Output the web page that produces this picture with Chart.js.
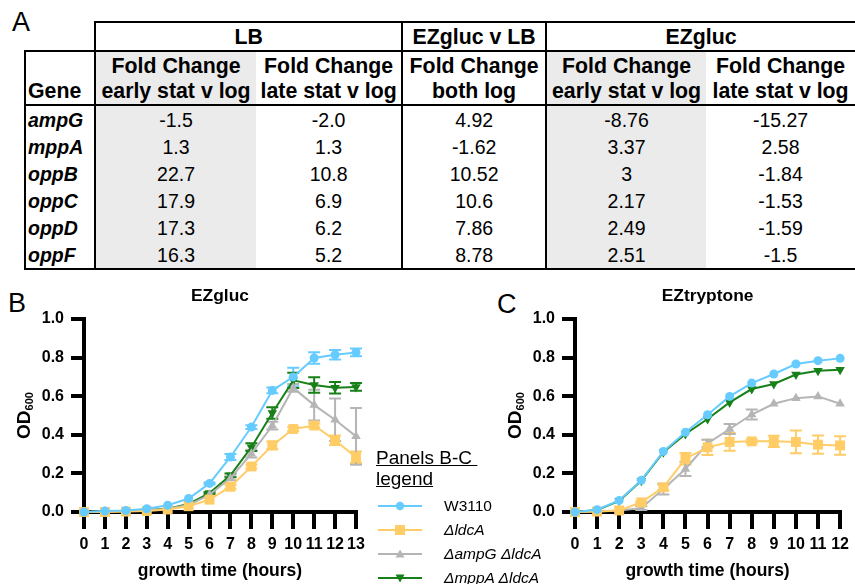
<!DOCTYPE html>
<html>
<head>
<meta charset="utf-8">
<script src="https://cdn.jsdelivr.net/npm/chart.js@4.4.0/dist/chart.umd.min.js"></script>
<style>
  body { margin: 0; width: 855px; height: 584px; overflow: hidden; background: #fff; position: relative;
         font-family: "Liberation Sans", Arial, sans-serif; color: #000; }
  .letter { position: absolute; font-size: 27px; line-height: 27px; }
  #tbl { position: absolute; left: 24px; top: 21px; border-collapse: collapse; table-layout: fixed; }
  #tbl td { padding: 0; text-align: center; white-space: nowrap; overflow: hidden; }
  #tbl tr.h1 td { height: 27px; font-weight: bold; font-size: 21.3px; line-height: 26px; }
  #tbl tr.h2 td { height: 52px; font-weight: bold; font-size: 21.3px; line-height: 25px; vertical-align: bottom; }
  #tbl tr.d td { height: 27px; font-size: 19.5px; line-height: 26px; }
  #tbl td.gene { text-align: left; padding-left: 2px; font-weight: bold; font-style: italic; }
  #tbl td.shade { background: #ebebeb; }
  #tbl td.vl { border-left: 2.5px solid #000; }
  .bt { border-top: 2.5px solid #000; }
  .bb { border-bottom: 2.5px solid #000; }
  canvas { position: absolute; }
  #legend { position: absolute; left: 0; top: 0; }
  .lgtitle { position: absolute; left: 376px; font-size: 19px; line-height: 21px; text-decoration: underline; white-space: pre; }
  .lgrow { position: absolute; left: 377px; height: 20px; display: flex; align-items: center; font-size: 15.5px; white-space: nowrap; }
  .lgrow svg { width: 46px; height: 14px; margin-right: 21px; }
</style>
</head>
<body>
<div class="letter" style="left:12px;top:9px">A</div>
<div class="letter" style="left:8px;top:290px">B</div>
<div class="letter" style="left:497px;top:291px">C</div>

<table id="tbl">
  <colgroup>
    <col style="width:71px"><col style="width:162px"><col style="width:147px">
    <col style="width:145px"><col style="width:161px"><col style="width:150px">
  </colgroup>
  <tbody id="tblBody"></tbody>
</table>

<canvas id="chartB" width="380" height="304" style="left:0;top:280px"></canvas>
<canvas id="chartC" width="365" height="304" style="left:490px;top:280px"></canvas>

<div id="legend">
  <div class="lgtitle" style="top:447px">Panels B-C </div>
  <div class="lgtitle" style="top:468px">legend</div>
</div>

<script>
// panel A table
const genes = ["ampG", "mppA", "oppB", "oppC", "oppD", "oppF"];
const lbEarly = ["-1.5", "1.3", "22.7", "17.9", "17.3", "16.3"];
const lbLate = ["-2.0", "1.3", "10.8", "6.9", "6.2", "5.2"];
const ezVsLb = ["4.92", "-1.62", "10.52", "10.6", "7.86", "8.78"];
const ezEarly = ["-8.76", "3.37", "3", "2.17", "2.49", "2.51"];
const ezLate = ["-15.27", "2.58", "-1.84", "-1.53", "-1.59", "-1.5"];

// panels B and C
const hoursB = [0, 1, 2, 3, 4, 5, 6, 7, 8, 9, 10, 11, 12, 13];
const hoursC = [0, 1, 2, 3, 4, 5, 6, 7, 8, 9, 10, 11, 12];
const strains = ["W3110", "ΔldcA", "ΔampG ΔldcA", "ΔmppA ΔldcA"];
const colors = ["#66ccff", "#ffcc66", "#b5b5b5", "#188018"];

const w3110B = [0, 0.005, 0.008, 0.017, 0.035, 0.07, 0.148, 0.285, 0.44, 0.63, 0.70, 0.798, 0.815, 0.827];
const ldcAB = [0, 0, 0.002, 0.005, 0.013, 0.03, 0.064, 0.131, 0.236, 0.345, 0.43, 0.448, 0.372, 0.284];
const ampGB = [0, 0.002, 0.004, 0.008, 0.017, 0.036, 0.09, 0.175, 0.302, 0.447, 0.643, 0.554, 0.478, 0.392];
const mppAB = [0, 0.003, 0.005, 0.01, 0.017, 0.042, 0.098, 0.19, 0.336, 0.513, 0.682, 0.658, 0.644, 0.648];
const w3110BErr = [0, 0, 0, 0, 0, 0, 0.005, 0.015, 0.01, 0.015, 0.048, 0.03, 0.025, 0.02];
const ldcABErr = [0, 0, 0, 0, 0, 0, 0, 0.01, 0.01, 0.02, 0.01, 0.01, 0.025, 0.03];
const ampGBErr = [0, 0, 0, 0, 0, 0, 0, 0.01, 0.02, 0.02, 0.02, 0.08, 0.11, 0.147];
const mppABErr = [0, 0, 0, 0, 0, 0, 0.005, 0.01, 0.02, 0.03, 0.04, 0.04, 0.03, 0.02];

const w3110C = [0, 0.012, 0.06, 0.164, 0.314, 0.413, 0.504, 0.599, 0.668, 0.715, 0.767, 0.784, 0.796];
const ldcAC = [0, 0.002, 0.008, 0.05, 0.128, 0.276, 0.335, 0.363, 0.366, 0.366, 0.363, 0.349, 0.345];
const ampGC = [0, 0.003, 0.008, 0.02, 0.119, 0.223, 0.355, 0.43, 0.505, 0.561, 0.59, 0.599, 0.561];
const mppAC = [0, 0.01, 0.058, 0.162, 0.31, 0.404, 0.482, 0.568, 0.637, 0.663, 0.712, 0.732, 0.737];
const w3110CErr = [0, 0, 0, 0, 0, 0, 0, 0, 0, 0, 0, 0, 0];
const ldcACErr = [0, 0, 0, 0.005, 0.015, 0.03, 0.04, 0.046, 0.01, 0.029, 0.059, 0.047, 0.048];
const ampGCErr = [0, 0, 0, 0.01, 0.028, 0.037, 0.02, 0.026, 0.026, 0, 0, 0, 0];
const mppACErr = [0, 0, 0, 0, 0, 0, 0, 0, 0, 0, 0, 0, 0];

const FONT = '"Liberation Sans", Arial, sans-serif';

// ---- table ----
const body = document.getElementById("tblBody");
body.innerHTML =
  '<tr class="h1"><td class="bb"></td>' +
  '<td colspan="2" class="vl bt bb">LB</td>' +
  '<td class="vl bt bb">EZgluc v LB</td>' +
  '<td colspan="2" class="vl bt bb">EZgluc</td></tr>' +
  '<tr class="h2"><td class="gene vl bb" style="font-style:normal">Gene</td>' +
  '<td class="vl shade bb">Fold Change<br>early stat v log</td>' +
  '<td class="bb">Fold Change<br>late stat v log</td>' +
  '<td class="vl bb">Fold Change<br>both log</td>' +
  '<td class="vl shade bb">Fold Change<br>early stat v log</td>' +
  '<td class="bb">Fold Change<br>late stat v log</td></tr>';
genes.forEach((g, i) => {
  const last = i === genes.length - 1 ? " bb" : "";
  body.innerHTML += '<tr class="d">' +
    '<td class="gene vl' + last + '">' + g + '</td>' +
    '<td class="vl shade' + last + '">' + lbEarly[i] + '</td>' +
    '<td class="' + last + '">' + lbLate[i] + '</td>' +
    '<td class="vl' + last + '">' + ezVsLb[i] + '</td>' +
    '<td class="vl shade' + last + '">' + ezEarly[i] + '</td>' +
    '<td class="' + last + '">' + ezLate[i] + '</td></tr>';
});

// ---- legend ----
const markers = [
  '<circle cx="23" cy="7" r="4.2" fill="C"/>',
  '<rect x="18" y="2" width="10" height="10" fill="C"/>',
  '<polygon points="23,2.5 27.5,10.5 18.5,10.5" fill="C"/>',
  '<polygon points="18.5,3.5 27.5,3.5 23,11.5" fill="C"/>'
];
const lgCenters = [506, 530, 554, 578];
strains.forEach((s, i) => {
  const row = document.createElement("div");
  row.className = "lgrow";
  row.style.top = (lgCenters[i] - 10) + "px";
  const label = i === 0 ? s : "<i>" + s + "</i>";
  row.innerHTML = '<svg viewBox="0 0 46 14"><line x1="1" y1="7" x2="45" y2="7" stroke="' + colors[i] +
    '" stroke-width="2"/>' + markers[i].replace("C", colors[i]) + '</svg><span>' + label + '</span>';
  document.getElementById("legend").appendChild(row);
});

// ---- charts ----
const errorBars = {
  id: "errorBars",
  beforeDatasetsDraw(chart) {
    const { ctx, scales: { x, y } } = chart;
    chart.data.datasets.forEach(ds => {
      if (!ds.errors) return;
      ctx.save();
      ctx.strokeStyle = ds.borderColor;
      ctx.lineWidth = 2;
      ds.data.forEach((p, j) => {
        const e = ds.errors[j];
        if (!e) return;
        const px = x.getPixelForValue(p.x);
        const top = y.getPixelForValue(p.y + e);
        const bot = y.getPixelForValue(p.y - e);
        ctx.beginPath();
        ctx.moveTo(px, top); ctx.lineTo(px, bot);
        ctx.moveTo(px - 6, top); ctx.lineTo(px + 6, top);
        ctx.moveTo(px - 6, bot); ctx.lineTo(px + 6, bot);
        ctx.stroke();
      });
      ctx.restore();
    });
  }
};

const panelText = {
  id: "panelText",
  afterDraw(chart, args, opts) {
    const { ctx, chartArea: a } = chart;
    ctx.save();
    ctx.fillStyle = "#000";
    ctx.font = "bold 17.4px " + FONT;
    ctx.textAlign = "center";
    ctx.textBaseline = "middle";
    ctx.fillText(opts.title, (a.left + a.right) / 2, a.top - 23);
    // OD600 axis title
    ctx.translate(a.left - 54, (a.top + a.bottom) / 2);
    ctx.rotate(-Math.PI / 2);
    ctx.textAlign = "left";
    ctx.textBaseline = "alphabetic";
    ctx.font = "bold 19px " + FONT;
    const w1 = ctx.measureText("OD").width;
    ctx.font = "bold 11px " + FONT;
    const w2 = ctx.measureText("600").width;
    const sx = -(w1 + w2) / 2;
    ctx.font = "bold 19px " + FONT;
    ctx.fillText("OD", sx, 0);
    ctx.font = "bold 11px " + FONT;
    ctx.fillText("600", sx + w1, 3);
    ctx.restore();
  }
};

const pointStyles = ["circle", "rect", "triangle", "triangle"];
const pointRadii = [4.5, 7, 5.5, 5.5];
const pointRot = [0, 0, 0, 180];

function makeChart(id, title, hours, series, errs, yAxisWidth, padRight) {
  const datasets = series.map((vals, i) => ({
    label: strains[i],
    data: hours.map((h, j) => ({ x: h, y: vals[j] })),
    errors: errs[i],
    borderColor: colors[i],
    backgroundColor: colors[i],
    borderWidth: 2,
    pointStyle: pointStyles[i],
    pointRadius: pointRadii[i],
    pointRotation: pointRot[i],
    pointBorderWidth: 0,
    tension: 0,
    clip: false
  }));
  const tickFont = { family: FONT, size: 16, weight: "bold" };
  return new Chart(document.getElementById(id), {
    type: "line",
    data: { datasets },
    plugins: [errorBars, panelText],
    options: {
      responsive: false,
      animation: false,
      devicePixelRatio: 1,
      layout: { padding: { top: 39, right: padRight, left: 0, bottom: 0 } },
      plugins: {
        legend: { display: false },
        tooltip: { enabled: false },
        panelText: { title: title }
      },
      scales: {
        x: {
          type: "linear",
          min: 0,
          max: hours[hours.length - 1],
          afterFit(scale) { scale.height = 72; },
          border: { display: true, width: 4, color: "#000" },
          grid: { drawOnChartArea: false, drawTicks: true, tickLength: 17, lineWidth: 4, color: "#000", tickColor: "#000" },
          ticks: { stepSize: 1, autoSkip: false, maxRotation: 0, padding: 6, color: "#000", font: tickFont },
          title: { display: true, text: "growth time (hours)", color: "#000",
                   font: { family: FONT, size: 17.5, weight: "bold" }, padding: { top: 0, bottom: 2 } }
        },
        y: {
          min: 0,
          max: 1,
          afterFit(scale) { scale.width = yAxisWidth; },
          border: { display: true, width: 4, color: "#000" },
          grid: { drawOnChartArea: false, drawTicks: true, tickLength: 13, lineWidth: 4, color: "#000", tickColor: "#000" },
          ticks: { stepSize: 0.2, padding: 7, color: "#000", font: tickFont, callback: v => v.toFixed(1) }
        }
      }
    }
  });
}

makeChart("chartB", "EZgluc", hoursB, [w3110B, ldcAB, ampGB, mppAB],
          [w3110BErr, ldcABErr, ampGBErr, mppABErr], 84, 24);
makeChart("chartC", "EZtryptone", hoursC, [w3110C, ldcAC, ampGC, mppAC],
          [w3110CErr, ldcACErr, ampGCErr, mppACErr], 85, 9);
</script>
</body>
</html>
